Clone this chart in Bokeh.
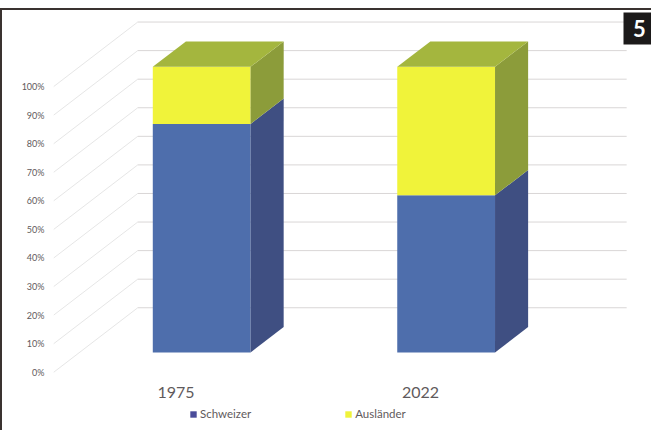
from bokeh.core.properties import value
from bokeh.embed import file_html
from bokeh.resources import INLINE
from bokeh.plotting import figure
from bokeh.models import (BoxAnnotation, FixedTicker, Label, Legend,
                          LegendItem, LinearAxis, Range1d)

# ---- data ----
years = ["1975", "2022"]
schweizer = [80, 55]
auslaender = [20, 45]
pct_ticks = list(range(0, 101, 10))
series_names = ["Schweizer", "Ausländer"]

# ---- oblique projection ----
DX, DY = 0.3436, 22.56      # shift of the back wall, in x units / percent
Z_FRONT, Z_BACK = 0.306, 0.70
HALF = 0.2
YEAR_LEVEL = -7.1


def px(x, z):
    return x + DX * z


def py(v, z):
    return v + DY * z


W, H = 651, 422
DARK = "#3a3330"
p = figure(width=W, height=H, output_backend="svg", toolbar_location=None,
           x_range=Range1d(-0.5133, 1.9534), y_range=Range1d(-21.1, 126.6),
           x_axis_location=None, y_axis_location=None,
           min_border_left=48, min_border_right=0, min_border_top=0, min_border_bottom=0,
           background_fill_color="white", border_fill_color="white",
           outline_line_color=None)
p.styles = {"position": "absolute", "left": "0px", "top": "8px",
            "border-left": f"2px solid {DARK}", "border-top": f"2px solid {DARK}"}
p.grid.visible = False

# ---- axes ----
TXT = "#5f5a5c"
yax = LinearAxis(ticker=FixedTicker(ticks=pct_ticks),
                 major_label_overrides={t: f"{t}%" for t in pct_ticks})
yax.axis_line_color = None
yax.major_tick_line_color = None
yax.minor_tick_line_color = None
yax.major_label_standoff = 0
yax.major_label_text_font = "Lato"
yax.major_label_text_font_size = "9px"
yax.major_label_text_color = TXT
p.add_layout(yax, "left")

p.text(x=list(range(len(years))), y=[YEAR_LEVEL] * len(years), text=years,
       text_font=value("Lato"), text_font_size="16px", text_color=TXT,
       text_align="center", text_baseline="middle")

# ---- wall lines ----
xs_diag = [[px(-0.5, 0), px(-0.5, 1)] for _ in pct_ticks]
ys_diag = [[py(t, 0), py(t, 1)] for t in pct_ticks]
xs_back = [[px(-0.5, 1), px(1.5, 1)] for _ in pct_ticks]
ys_back = [[py(t, 1), py(t, 1)] for t in pct_ticks]
p.multi_line(xs_diag, ys_diag, line_color="#e6e6e6", line_width=1)
p.multi_line(xs_back, ys_back, line_color="#d9d6d6", line_width=1)


# ---- 3D stacked bars ----
def box(i, lo, hi, front, side, top=None):
    x0, x1 = i - HALF, i + HALF
    p.quad(left=[px(x0, Z_FRONT)], right=[px(x1, Z_FRONT)],
           bottom=[py(lo, Z_FRONT)], top=[py(hi, Z_FRONT)],
           fill_color=front, line_color=None)
    p.patch([px(x1, Z_FRONT), px(x1, Z_BACK), px(x1, Z_BACK), px(x1, Z_FRONT)],
            [py(lo, Z_FRONT), py(lo, Z_BACK), py(hi, Z_BACK), py(hi, Z_FRONT)],
            fill_color=side, line_color=None)
    if top:
        p.patch([px(x0, Z_FRONT), px(x0, Z_BACK), px(x1, Z_BACK), px(x1, Z_FRONT)],
                [py(hi, Z_FRONT), py(hi, Z_BACK), py(hi, Z_BACK), py(hi, Z_FRONT)],
                fill_color=top, line_color=None)


for i in range(len(years)):
    box(i, 0, schweizer[i], "#4e6eac", "#3f4f82")
    box(i, schweizer[i], schweizer[i] + auslaender[i], "#f0f33a", "#8c9c3a", "#a4b63e")

# ---- legend ----
nan = float("nan")
r1 = p.quad(left=[nan], right=[nan], top=[nan], bottom=[nan],
            fill_color="#4a4c9a", line_color=None)
r2 = p.quad(left=[nan], right=[nan], top=[nan], bottom=[nan],
            fill_color="#f0f33a", line_color=None)
legend = Legend(items=[LegendItem(label=series_names[0], renderers=[r1]),
                       LegendItem(label=series_names[1], renderers=[r2])],
                orientation="horizontal", location=(139, 12),
                border_line_color=None, background_fill_alpha=0,
                glyph_width=8, glyph_height=8, spacing=93, padding=0, margin=0,
                label_text_font="Lato", label_text_font_size="11.5px",
                label_text_color=TXT, label_standoff=3, label_height=12)
p.add_layout(legend, "center")

# ---- number badge ----
p.add_layout(BoxAnnotation(left=619, right=W, top=0, bottom=32, left_units="canvas",
                           right_units="canvas", top_units="canvas", bottom_units="canvas",
                           fill_color="#1c1a1a", fill_alpha=1, line_color=None))
p.add_layout(Label(x=635, y=16, x_units="canvas", y_units="canvas", text="5",
                   text_color="white", text_font="Lato", text_font_style="bold",
                   text_font_size="22px", text_align="center", text_baseline="middle"))

open("out.html", "w").write(file_html(p, INLINE))
